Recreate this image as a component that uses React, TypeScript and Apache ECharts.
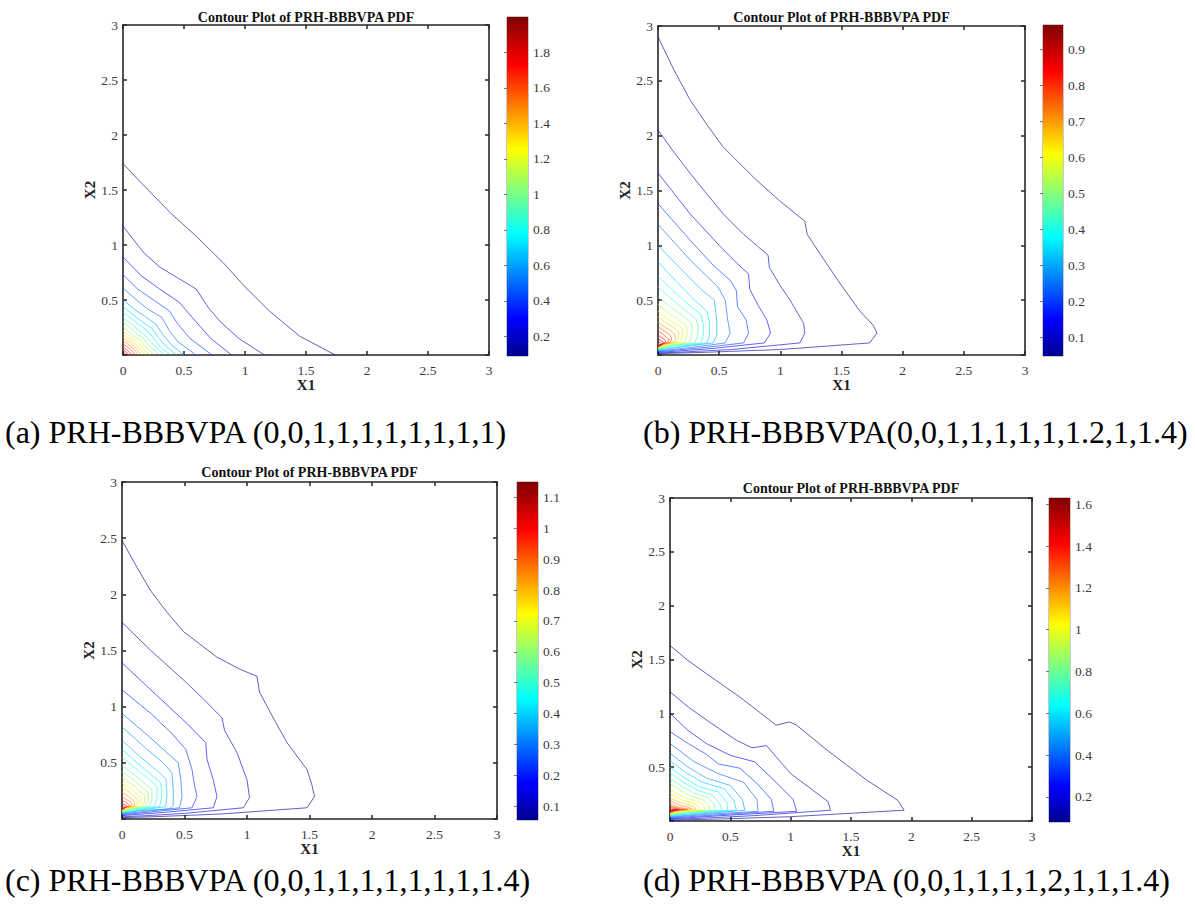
import React, { useEffect, useRef } from 'react';
import * as echarts from 'echarts';

const FONT = 'Liberation Serif, Times New Roman, serif';

// ---------- Data ----------
const titleText = 'Contour Plot of PRH-BBBVPA PDF';
const captions = [
  '(a) PRH-BBBVPA (0,0,1,1,1,1,1,1,1,1)',
  '(b) PRH-BBBVPA(0,0,1,1,1,1,1,1.2,1,1.4)',
  '(c) PRH-BBBVPA (0,0,1,1,1,1,1,1,1,1.4)',
  '(d) PRH-BBBVPA (0,0,1,1,1,1,2,1,1,1.4)',
];

// colorbar ranges and tick labels
const cbarRangeA = [0.09, 2.0];
const cbarTicksA = [0.2, 0.4, 0.6, 0.8, 1, 1.2, 1.4, 1.6, 1.8];
const cbarRangeB = [0.048, 0.968];
const cbarTicksB = [0.1, 0.2, 0.3, 0.4, 0.5, 0.6, 0.7, 0.8, 0.9];
const cbarRangeC = [0.055, 1.15];
const cbarTicksC = [0.1, 0.2, 0.3, 0.4, 0.5, 0.6, 0.7, 0.8, 0.9, 1, 1.1];
const cbarRangeD = [0.08, 1.63];
const cbarTicksD = [0.2, 0.4, 0.6, 0.8, 1, 1.2, 1.4, 1.6];

// contour levels (one per line)
const levelsA = [0.1, 0.2, 0.3, 0.4, 0.5, 0.6, 0.7, 0.8, 0.9, 1.0, 1.1, 1.2, 1.3, 1.4, 1.5, 1.6, 1.7, 1.8, 1.9];
const levelsB = [0.05, 0.1, 0.15, 0.2, 0.25, 0.3, 0.35, 0.4, 0.45, 0.5, 0.55, 0.6, 0.65, 0.7, 0.75, 0.8, 0.85, 0.9, 0.95];
const levelsC = [0.055, 0.11, 0.165, 0.22, 0.275, 0.33, 0.385, 0.44, 0.495, 0.55, 0.605, 0.66, 0.715, 0.77, 0.825, 0.88, 0.935, 0.99, 1.045, 1.1];
const levelsD = [0.08, 0.16, 0.24, 0.32, 0.4, 0.48, 0.56, 0.64, 0.72, 0.8, 0.88, 0.96, 1.04, 1.12, 1.2, 1.28, 1.36, 1.44, 1.52, 1.6];

// contour lines: flat lists x0,y0,x1,y1,...
const linesA = [
  [0, 1.74, 0.12, 1.6, 0.25, 1.45, 0.4, 1.28, 0.6, 1.08, 0.82, 0.84, 1.0, 0.62, 1.2, 0.4, 1.45, 0.17, 1.74, 0],
  [0, 1.17, 0.17, 0.93, 0.3, 0.8, 0.45, 0.7, 0.6, 0.6, 0.7, 0.43, 0.8, 0.3, 0.95, 0.15, 1.16, 0],
  [0, 0.89, 0.15, 0.72, 0.3, 0.6, 0.46, 0.48, 0.6, 0.3, 0.72, 0.15, 0.89, 0],
  [0, 0.73, 0.12, 0.6, 0.25, 0.5, 0.38, 0.4, 0.45, 0.28, 0.55, 0.15, 0.73, 0],
  [0, 0.61, 0.1, 0.51, 0.2, 0.42, 0.32, 0.34, 0.38, 0.22, 0.45, 0.12, 0.6, 0],
  [0, 0.5, 0.1, 0.41, 0.18, 0.35, 0.27, 0.28, 0.33, 0.18, 0.4, 0.09, 0.5, 0],
  [0, 0.44, 0.09, 0.36, 0.16, 0.3, 0.24, 0.24, 0.29, 0.16, 0.35, 0.08, 0.44, 0],
  [0, 0.39, 0.08, 0.32, 0.14, 0.27, 0.21, 0.21, 0.26, 0.14, 0.31, 0.07, 0.39, 0],
  [0, 0.34, 0.07, 0.28, 0.12, 0.23, 0.18, 0.18, 0.23, 0.12, 0.28, 0.06, 0.34, 0],
  [0, 0.3, 0.06, 0.25, 0.1, 0.2, 0.16, 0.16, 0.2, 0.1, 0.25, 0.05, 0.3, 0],
  [0, 0.26, 0.05, 0.21, 0.09, 0.17, 0.14, 0.14, 0.17, 0.09, 0.21, 0.05, 0.26, 0],
  [0, 0.22, 0.04, 0.18, 0.08, 0.15, 0.12, 0.12, 0.15, 0.08, 0.18, 0.04, 0.22, 0],
  [0, 0.19, 0.04, 0.15, 0.07, 0.13, 0.1, 0.1, 0.13, 0.07, 0.15, 0.04, 0.19, 0],
  [0, 0.16, 0.03, 0.13, 0.06, 0.11, 0.085, 0.085, 0.11, 0.06, 0.13, 0.03, 0.16, 0],
  [0, 0.13, 0.04, 0.1, 0.07, 0.07, 0.1, 0.04, 0.13, 0],
  [0, 0.1, 0.03, 0.08, 0.055, 0.055, 0.08, 0.03, 0.1, 0],
  [0, 0.075, 0.04, 0.04, 0.075, 0],
  [0, 0.05, 0.027, 0.027, 0.05, 0],
  [0, 0.03, 0.016, 0.016, 0.03, 0],
];

const linesB = [
  [0, 2.9, 0.13, 2.6, 0.26, 2.33, 0.4, 2.1, 0.53, 1.9, 0.8, 1.6, 1.0, 1.4, 1.2, 1.22, 1.22, 1.1, 1.35, 0.88, 1.49, 0.65, 1.65, 0.4, 1.76, 0.27, 1.79, 0.2, 1.73, 0.11, 1.0, 0.05, 0.4, 0.025, 0, 0.012],
  [0, 2.05, 0.13, 1.85, 0.26, 1.66, 0.53, 1.29, 0.7, 1.1, 0.9, 0.91, 0.91, 0.8, 1.0, 0.63, 1.08, 0.5, 1.19, 0.29, 1.2, 0.2, 1.16, 0.11, 0.6, 0.05, 0.2, 0.027, 0, 0.018],
  [0, 1.66, 0.26, 1.29, 0.5, 1.0, 0.67, 0.81, 0.74, 0.74, 0.75, 0.6, 0.82, 0.45, 0.89, 0.32, 0.92, 0.2, 0.87, 0.11, 0.45, 0.06, 0.15, 0.035, 0, 0.024],
  [0, 1.38, 0.26, 1.05, 0.45, 0.82, 0.59, 0.68, 0.64, 0.59, 0.65, 0.44, 0.72, 0.32, 0.74, 0.2, 0.7, 0.11, 0.35, 0.065, 0.1, 0.04, 0, 0.03],
  [0, 1.19, 0.26, 0.87, 0.49, 0.62, 0.55, 0.5, 0.57, 0.32, 0.59, 0.2, 0.55, 0.11, 0.28, 0.07, 0, 0.036],
  [0, 1.0, 0.2, 0.77, 0.35, 0.6, 0.46, 0.5, 0.48, 0.32, 0.48, 0.18, 0.45, 0.11, 0.2, 0.075, 0, 0.042],
  [0, 0.85, 0.15, 0.67, 0.3, 0.5, 0.4, 0.4, 0.42, 0.3, 0.42, 0.18, 0.4, 0.11, 0.2, 0.08, 0, 0.048],
  [0, 0.72, 0.13, 0.58, 0.26, 0.45, 0.35, 0.37, 0.37, 0.28, 0.37, 0.17, 0.35, 0.11, 0.15, 0.085, 0, 0.053],
  [0, 0.62, 0.12, 0.5, 0.23, 0.4, 0.31, 0.33, 0.33, 0.26, 0.32, 0.16, 0.3, 0.11, 0.12, 0.088, 0, 0.057],
  [0, 0.53, 0.1, 0.44, 0.2, 0.36, 0.27, 0.3, 0.28, 0.24, 0.27, 0.15, 0.25, 0.11, 0.1, 0.09, 0, 0.06],
  [0, 0.46, 0.09, 0.38, 0.17, 0.32, 0.23, 0.27, 0.24, 0.2, 0.22, 0.12, 0.08, 0.092, 0, 0.063],
  [0, 0.4, 0.08, 0.33, 0.15, 0.28, 0.2, 0.24, 0.2, 0.18, 0.18, 0.12, 0.07, 0.094, 0, 0.066],
  [0, 0.35, 0.07, 0.29, 0.13, 0.25, 0.17, 0.21, 0.17, 0.16, 0.15, 0.12, 0.06, 0.096, 0, 0.069],
  [0, 0.3, 0.06, 0.25, 0.11, 0.22, 0.14, 0.18, 0.14, 0.14, 0.12, 0.115, 0.05, 0.098, 0, 0.072],
  [0, 0.26, 0.05, 0.22, 0.09, 0.19, 0.11, 0.16, 0.11, 0.13, 0.09, 0.11, 0.04, 0.1, 0, 0.074],
  [0, 0.22, 0.04, 0.19, 0.07, 0.16, 0.09, 0.14, 0.085, 0.12, 0.05, 0.105, 0, 0.077],
  [0, 0.18, 0.03, 0.16, 0.055, 0.14, 0.065, 0.12, 0.04, 0.105, 0, 0.08],
  [0, 0.15, 0.025, 0.13, 0.045, 0.115, 0.03, 0.1, 0, 0.083],
  [0, 0.12, 0.02, 0.11, 0.03, 0.1, 0.015, 0.092, 0, 0.087],
];

const linesC = [
  [0, 2.48, 0.12, 2.24, 0.23, 2.03, 0.36, 1.84, 0.49, 1.67, 0.76, 1.44, 0.95, 1.33, 1.08, 1.27, 1.1, 1.13, 1.2, 0.92, 1.32, 0.68, 1.48, 0.44, 1.52, 0.3, 1.54, 0.2, 1.48, 0.1, 0.8, 0.045, 0.3, 0.022, 0, 0.012],
  [0, 1.75, 0.12, 1.62, 0.23, 1.5, 0.49, 1.24, 0.65, 1.07, 0.8, 0.9, 0.82, 0.79, 0.92, 0.59, 1.0, 0.35, 1.02, 0.19, 0.97, 0.1, 0.5, 0.05, 0.2, 0.03, 0, 0.02],
  [0, 1.39, 0.23, 1.15, 0.52, 0.85, 0.67, 0.68, 0.68, 0.53, 0.73, 0.35, 0.76, 0.2, 0.73, 0.1, 0.35, 0.06, 0, 0.03],
  [0, 1.15, 0.23, 0.94, 0.4, 0.76, 0.51, 0.62, 0.56, 0.44, 0.58, 0.3, 0.6, 0.2, 0.56, 0.1, 0.25, 0.065, 0, 0.037],
  [0, 0.94, 0.2, 0.75, 0.35, 0.6, 0.45, 0.5, 0.47, 0.35, 0.48, 0.2, 0.46, 0.1, 0.2, 0.07, 0, 0.043],
  [0, 0.82, 0.2, 0.62, 0.33, 0.5, 0.4, 0.41, 0.41, 0.25, 0.41, 0.12, 0.38, 0.09, 0.15, 0.075, 0, 0.048],
  [0, 0.7, 0.15, 0.55, 0.28, 0.43, 0.35, 0.36, 0.36, 0.22, 0.35, 0.11, 0.15, 0.08, 0, 0.052],
  [0, 0.62, 0.13, 0.49, 0.25, 0.38, 0.31, 0.32, 0.32, 0.2, 0.3, 0.11, 0.12, 0.083, 0, 0.056],
  [0, 0.55, 0.12, 0.44, 0.22, 0.35, 0.28, 0.29, 0.28, 0.19, 0.26, 0.11, 0.1, 0.086, 0, 0.06],
  [0, 0.48, 0.1, 0.39, 0.19, 0.31, 0.24, 0.26, 0.24, 0.17, 0.22, 0.11, 0.08, 0.089, 0, 0.063],
  [0, 0.42, 0.09, 0.35, 0.16, 0.28, 0.21, 0.24, 0.21, 0.16, 0.19, 0.115, 0.07, 0.092, 0, 0.066],
  [0, 0.37, 0.08, 0.31, 0.14, 0.25, 0.18, 0.21, 0.18, 0.15, 0.16, 0.115, 0.06, 0.094, 0, 0.069],
  [0, 0.32, 0.07, 0.27, 0.12, 0.22, 0.15, 0.19, 0.15, 0.14, 0.13, 0.115, 0.05, 0.096, 0, 0.071],
  [0, 0.28, 0.06, 0.24, 0.1, 0.2, 0.13, 0.17, 0.12, 0.13, 0.1, 0.112, 0.04, 0.098, 0, 0.074],
  [0, 0.24, 0.05, 0.2, 0.085, 0.175, 0.1, 0.15, 0.1, 0.125, 0.08, 0.11, 0.03, 0.1, 0, 0.077],
  [0, 0.2, 0.04, 0.17, 0.07, 0.15, 0.08, 0.13, 0.07, 0.113, 0.03, 0.103, 0, 0.08],
  [0, 0.17, 0.03, 0.15, 0.055, 0.13, 0.06, 0.117, 0.03, 0.105, 0, 0.083],
  [0, 0.14, 0.025, 0.127, 0.04, 0.115, 0.025, 0.105, 0, 0.086],
  [0, 0.12, 0.018, 0.112, 0.025, 0.104, 0.012, 0.097, 0, 0.09],
  [0, 0.105, 0.01, 0.1, 0.005, 0.095, 0, 0.093],
];

const linesD = [
  [0, 1.63, 0.15, 1.49, 0.3, 1.37, 0.58, 1.15, 0.88, 0.89, 0.99, 0.92, 1.05, 0.89, 1.3, 0.66, 1.63, 0.38, 1.89, 0.19, 1.94, 0.1, 1.0, 0.04, 0.4, 0.018, 0, 0.008],
  [0, 1.2, 0.15, 1.06, 0.3, 0.94, 0.55, 0.75, 0.68, 0.68, 0.8, 0.7, 1.0, 0.44, 1.31, 0.18, 1.33, 0.1, 0.7, 0.05, 0.25, 0.025, 0, 0.015],
  [0, 1.0, 0.15, 0.84, 0.3, 0.72, 0.5, 0.61, 0.7, 0.55, 0.86, 0.38, 1.02, 0.2, 1.05, 0.09, 0.5, 0.055, 0.15, 0.03, 0, 0.022],
  [0, 0.83, 0.15, 0.72, 0.3, 0.62, 0.4, 0.53, 0.58, 0.49, 0.72, 0.35, 0.84, 0.2, 0.86, 0.09, 0.4, 0.058, 0.1, 0.035, 0, 0.028],
  [0, 0.72, 0.2, 0.55, 0.4, 0.44, 0.61, 0.36, 0.72, 0.2, 0.73, 0.09, 0.3, 0.062, 0, 0.034],
  [0, 0.63, 0.15, 0.5, 0.3, 0.4, 0.5, 0.33, 0.6, 0.2, 0.62, 0.1, 0.25, 0.065, 0, 0.04],
  [0, 0.56, 0.13, 0.45, 0.27, 0.36, 0.45, 0.3, 0.53, 0.19, 0.55, 0.1, 0.2, 0.07, 0, 0.045],
  [0, 0.5, 0.12, 0.4, 0.24, 0.32, 0.4, 0.27, 0.47, 0.18, 0.48, 0.1, 0.18, 0.075, 0, 0.05],
  [0, 0.45, 0.11, 0.36, 0.22, 0.29, 0.35, 0.24, 0.41, 0.17, 0.43, 0.1, 0.15, 0.078, 0, 0.054],
  [0, 0.4, 0.1, 0.32, 0.2, 0.26, 0.31, 0.22, 0.36, 0.16, 0.38, 0.1, 0.13, 0.081, 0, 0.058],
  [0, 0.35, 0.09, 0.28, 0.18, 0.23, 0.27, 0.2, 0.32, 0.15, 0.33, 0.1, 0.11, 0.084, 0, 0.062],
  [0, 0.3, 0.08, 0.24, 0.16, 0.2, 0.24, 0.18, 0.28, 0.14, 0.29, 0.1, 0.1, 0.087, 0, 0.066],
  [0, 0.26, 0.07, 0.21, 0.14, 0.18, 0.21, 0.16, 0.24, 0.13, 0.25, 0.105, 0.08, 0.09, 0, 0.07],
  [0, 0.22, 0.06, 0.18, 0.12, 0.16, 0.18, 0.14, 0.21, 0.12, 0.21, 0.107, 0.07, 0.093, 0, 0.073],
  [0, 0.19, 0.05, 0.16, 0.1, 0.14, 0.15, 0.13, 0.18, 0.115, 0.06, 0.096, 0, 0.076],
  [0, 0.16, 0.04, 0.14, 0.08, 0.125, 0.13, 0.115, 0.15, 0.108, 0.05, 0.098, 0, 0.079],
  [0, 0.14, 0.04, 0.125, 0.08, 0.115, 0.12, 0.107, 0.04, 0.1, 0, 0.082],
  [0, 0.125, 0.04, 0.115, 0.08, 0.107, 0.03, 0.101, 0, 0.085],
  [0, 0.112, 0.03, 0.107, 0.06, 0.103, 0.02, 0.099, 0, 0.089],
  [0, 0.1, 0.03, 0.098, 0.01, 0.094, 0, 0.093],
];

// ---------- Layout (pixels) ----------
const panels = [
  { plot: { left: 123, top: 25, width: 366, height: 330 }, cbar: { left: 507, top: 17, width: 21, height: 339 }, titleY: 17, cap: { x: 5, y: 432 },
    range: cbarRangeA, ticks: cbarTicksA, levels: levelsA, lines: linesA },
  { plot: { left: 658, top: 26, width: 367, height: 329 }, cbar: { left: 1043, top: 25, width: 20, height: 331 }, titleY: 17, cap: { x: 643, y: 432 },
    range: cbarRangeB, ticks: cbarTicksB, levels: levelsB, lines: linesB },
  { plot: { left: 122, top: 482, width: 375, height: 337 }, cbar: { left: 517, top: 482, width: 21, height: 338 }, titleY: 472, cap: { x: 5, y: 880 },
    range: cbarRangeC, ticks: cbarTicksC, levels: levelsC, lines: linesC },
  { plot: { left: 670, top: 498, width: 362, height: 323 }, cbar: { left: 1049, top: 498, width: 21, height: 324 }, titleY: 488, cap: { x: 643, y: 880 },
    range: cbarRangeD, ticks: cbarTicksD, levels: levelsD, lines: linesD },
];

const JET: [number, number[]][] = [
  [0, [0, 0, 143]],
  [0.11, [0, 0, 255]],
  [0.36, [0, 255, 255]],
  [0.61, [255, 255, 0]],
  [0.86, [255, 0, 0]],
  [1, [128, 0, 0]],
];

function jet(t: number): string {
  const v = Math.max(0, Math.min(1, t));
  for (let i = 1; i < JET.length; i++) {
    if (v <= JET[i][0]) {
      const [t0, c0] = JET[i - 1];
      const [t1, c1] = JET[i];
      const f = (v - t0) / (t1 - t0);
      const c = c0.map((a, k) => Math.round(a + (c1[k] - a) * f));
      return `rgb(${c[0]},${c[1]},${c[2]})`;
    }
  }
  return 'rgb(128,0,0)';
}

const AX = '#262626';
const fmt = (v: number) => String(Math.round(v * 100) / 100);

function buildOption() {
  const grid: any[] = [];
  const xAxis: any[] = [];
  const yAxis: any[] = [];
  const series: any[] = [];
  const graphic: any[] = [];

  panels.forEach((p, i) => {
    const gPlot = grid.length;
    grid.push({ ...p.plot, containLabel: false });
    const gBar = grid.length;
    grid.push({ ...p.cbar, containLabel: false, show: true, borderColor: '#777', borderWidth: 0.8, backgroundColor: 'transparent' });

    const common = {
      type: 'value', min: 0, max: 3, interval: 0.5,
      splitLine: { show: false },
      axisLine: { show: true, onZero: false, lineStyle: { color: AX, width: 1.6 } },
      axisTick: { show: true, inside: true, length: 4, lineStyle: { color: AX, width: 1.5 } },
    };
    const xMain = xAxis.length;
    xAxis.push({
      ...common, gridIndex: gPlot, position: 'bottom',
      axisLabel: { fontFamily: FONT, fontSize: 13.5, color: '#3a3a3a', margin: 8, formatter: fmt },
      name: 'X1', nameLocation: 'middle', nameGap: 22,
      nameTextStyle: { fontFamily: FONT, fontSize: 15, fontWeight: 'bold', color: '#222' },
    });
    xAxis.push({ ...common, gridIndex: gPlot, position: 'top', axisLabel: { show: false } });
    const xBar = xAxis.length;
    xAxis.push({ type: 'value', gridIndex: gBar, min: 0, max: 1, show: false });

    const yMain = yAxis.length;
    yAxis.push({
      ...common, gridIndex: gPlot, position: 'left',
      axisLabel: { fontFamily: FONT, fontSize: 13.5, color: '#3a3a3a', margin: 5, formatter: (v: number) => (v === 0 ? '' : fmt(v)) },
      name: 'X2', nameLocation: 'middle', nameGap: 22,
      nameTextStyle: { fontFamily: FONT, fontSize: 15, fontWeight: 'bold', color: '#222' },
    });
    yAxis.push({ ...common, gridIndex: gPlot, position: 'right', axisLabel: { show: false } });
    const yBar = yAxis.length;
    yAxis.push({
      type: 'value', gridIndex: gBar, position: 'right', min: p.range[0], max: p.range[1],
      splitLine: { show: false },
      axisLine: { show: false },
      axisTick: { show: true, inside: true, length: 3, customValues: p.ticks, lineStyle: { color: '#555', width: 0.8 } },
      axisLabel: { customValues: p.ticks, fontFamily: FONT, fontSize: 13.5, color: '#3a3a3a', margin: 5, formatter: fmt },
    });

    // colorbar
    const stops = JET.map(([o, c]) => ({ offset: o, color: `rgb(${c[0]},${c[1]},${c[2]})` }));
    series.push({
      type: 'custom', xAxisIndex: xBar, yAxisIndex: yBar, silent: true, clip: false,
      data: [[0.5, p.range[0], p.range[1]]],
      encode: { x: 0, y: [1, 2] },
      renderItem: (params: any, api: any) => {
        const lo = api.coord([0.5, api.value(1)]);
        const hi = api.coord([0.5, api.value(2)]);
        const cs = params.coordSys;
        return {
          type: 'rect',
          shape: { x: cs.x, y: hi[1], width: cs.width, height: lo[1] - hi[1] },
          style: { fill: new echarts.graphic.LinearGradient(0, 1, 0, 0, stops) },
        };
      },
    });

    // contour lines
    const span = p.range[1] - p.range[0];
    p.lines.forEach((flat, k) => {
      const pts: number[][] = [];
      for (let j = 0; j < flat.length; j += 2) pts.push([flat[j], flat[j + 1]]);
      series.push({
        type: 'line', xAxisIndex: xMain, yAxisIndex: yMain, data: pts,
        symbol: 'none', showSymbol: false, silent: true, animation: false,
        lineStyle: { color: jet((p.levels[k] - p.range[0]) / span), width: 1, opacity: 0.62 },
      });
    });

    // title & caption
    graphic.push({
      type: 'text', x: p.plot.left + p.plot.width / 2, y: p.titleY, silent: true,
      style: { text: titleText, fontFamily: FONT, fontSize: 14, fontWeight: 'bold', fill: '#111', textAlign: 'center', textVerticalAlign: 'middle' },
    });
    graphic.push({
      type: 'text', x: p.cap.x, y: p.cap.y, silent: true,
      style: { text: captions[i], fontFamily: FONT, fontSize: 32, fill: '#000', textAlign: 'left', textVerticalAlign: 'middle' },
    });
  });

  return { animation: false, backgroundColor: '#fff', grid, xAxis, yAxis, series, graphic };
}

export default function App() {
  const ref = useRef<HTMLDivElement>(null);
  useEffect(() => {
    if (!ref.current) return;
    const chart = echarts.init(ref.current, undefined, { renderer: 'svg' });
    chart.setOption(buildOption() as any);
    return () => chart.dispose();
  }, []);
  return <div ref={ref} style={{ position: 'absolute', left: 0, top: 0, width: 1195, height: 911, background: '#fff' }} />;
}
